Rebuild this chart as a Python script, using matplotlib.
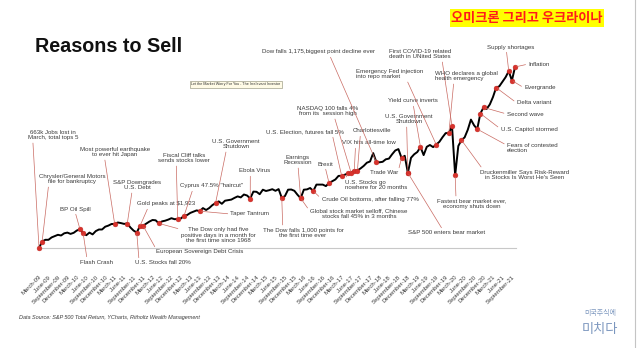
import matplotlib
matplotlib.use('Agg')
import matplotlib.pyplot as plt
import pandas as pd

plt.rcParams['font.family'] = ['Liberation Sans', 'DejaVu Sans']

# S&P 500 total return, one value per month
# (height above the March-09 low, chart units)
tr_2009 = [0, 6.5, 8.2, 8.2, 10.6, 11.9, 13.2, 12.5, 14.7, 15.4]
tr_2010 = [14.1, 15.2, 17.5, 18.7, 14.8, 12.8, 15.4, 13.6, 16.9, 18.5, 18.5, 21.3]
tr_2011 = [22.4, 24.0, 24.0, 25.5, 24.9, 24.1, 24.5, 20.5, 17.4, 15.5, 21.8, 22.3]
tr_2012 = [24.3, 26.4, 28.0, 27.7, 24.6, 26.6, 27.3, 28.4, 29.8, 28.8, 29.0, 29.5]
tr_2013 = [32.2, 33.0, 35.1, 36.3, 37.6, 36.8, 39.9, 38.0, 40.0, 42.9, 44.9, 46.6]
tr_2014 = [44.2, 47.3, 47.9, 48.4, 50.1, 51.6, 50.6, 53.5, 52.5, 49.5, 56.4, 56.2]
tr_2015 = [53.8, 58.3, 57.0, 57.8, 58.8, 57.2, 58.9, 50.2, 51.9, 58.3, 58.5, 57.2]
tr_2016 = [53.2, 49.8, 58.3, 58.6, 60.0, 57.0, 63.4, 63.4, 63.4, 61.9, 65.0, 66.8]
tr_2017 = [68.5, 72.1, 72.2, 73.3, 74.6, 75.2, 77.3, 77.5, 79.6, 82.1, 85.3, 86.5]
tr_2018 = [94.9, 86.0, 85.7, 86.2, 88.7, 89.4, 93.7, 97.5, 98.9, 90.0, 92.2, 75.1]
tr_2019 = [90.2, 93.7, 96.0, 101.0, 92.9, 101.2, 103.0, 100.9, 103.4, 106.2, 110.8, 114.9]
tr_2020 = [114.9, 122.0, 72.7, 102.0, 107.9, 110.6, 118.2, 128.4, 122.7, 118.9, 134.5, 140.6]
tr_2021 = [139.1, 143.6, 151.0, 160.4, 161.7, 166.2, 170.8, 176.8, 167.5, 181.0]

values = (tr_2009 + tr_2010 + tr_2011 + tr_2012 + tr_2013 + tr_2014 + tr_2015
          + tr_2016 + tr_2017 + tr_2018 + tr_2019 + tr_2020 + tr_2021)
months = pd.period_range('2009-03', periods=len(values), freq='M')

tick_months = pd.period_range('2009-03', '2021-09', freq='3M')
tick_labels = [p.strftime('%B') + '-' + p.strftime('%y') for p in tick_months]

# events and the month where their dot sits on the line
event_labels = [
    "663k Jobs lost in\nMarch, total tops 5",
    "Chrysler/General Motors\nfile for bankruptcy",
    "BP Oil Spill",
    "Flash Crash",
    "Most powerful earthquake\nto ever hit Japan",
    "S&P Downgrades\nU.S. Debt",
    "Gold peaks at $1,923",
    "U.S. Stocks fall 20%",
    "European Sovereign Debt Crisis",
    "The Dow only had five\npositive days in a month for\nthe first time since 1968",
    "Fiscal Cliff talks\nsends stocks lower",
    "Cyprus 47.5% \"haircut\"",
    "Taper Tantrum",
    "U.S. Government\nShutdown",
    "Ebola Virus",
    "Earnings\nRecession",
    "The Dow falls 1,000 points for\nthe first time ever",
    "Global stock market selloff, Chinese\nstocks fall 45% in 3 months",
    "Crude Oil bottoms, after falling 77%",
    "Brexit",
    "U.S. Election, futures fall 5%",
    "U.S. Stocks go\nnowhere for 20 months",
    "VIX hits all-time low",
    "Charlottesville",
    "NASDAQ 100 falls 4%\nfrom its  session high",
    "Dow falls 1,175,biggest point decline ever",
    "Trade War",
    "S&P 500 enters bear market",
    "U.S. Government\nShutdown",
    "Yield curve inverts",
    "Emergency Fed injection\ninto repo market",
    "First COVID-19 related\ndeath in UNited States",
    "WHO declares a global\nhealth emergency",
    "Fastest bear market ever,\neconomy shuts down",
    "Druckenmiller Says Risk-Reward\nin Stocks Is Worst He's Seen",
    "Fears of contested\nelection",
    "U.S. Capitol stormed",
    "Second wave",
    "Delta variant",
    "Supply shortages",
    "Inflation",
    "Evergrande",
]
event_months = [
    '2009-03', '2009-04', '2010-04', '2010-05', '2011-03', '2011-07', '2011-11',
    '2011-10', '2011-12', '2012-05', '2012-11', '2013-01', '2013-06', '2013-11',
    '2014-10', '2016-02', '2015-08', '2016-02', '2016-06', '2016-11', '2017-03',
    '2017-05', '2017-07', '2017-08', '2017-06', '2018-02', '2018-10', '2018-12',
    '2018-12', '2019-04', '2019-09', '2020-02', '2020-01', '2020-03', '2020-05',
    '2020-10', '2020-11', '2020-12', '2021-04', '2021-08', '2021-10', '2021-09',
]

# label layout: text anchor in picture pixels (from top-left), alignment, leader start
label_layout = [
    (53, 135, 'center', (0.1, 0)), (72, 179, 'center', (0.15, 0)),
    (75, 209, 'center', (0.5, 0)), (96, 262, 'center', (0.23, 1)),
    (115, 152, 'center', (0.35, 0)), (137, 185, 'center', (0.4, 0)),
    (166, 204, 'center', (0.2, 0)), (163, 263, 'center', (0.07, 1)),
    (200, 252, 'center', (0.0, 1)), (218, 235, 'center', (0.0, 0.85)),
    (184, 158, 'center', (0.35, 0)), (212, 186, 'center', (0.2, 0)),
    (250, 214, 'center', (0.0, 0.5)), (236, 144, 'center', (0.3, 0)),
    (255, 171, 'center', (0.35, 0)), (298, 160, 'center', (0.5, 0)),
    (303, 233, 'center', (0.25, 1)), (359, 214, 'center', (0.0, 0.7)),
    (370, 199, 'center', (0.0, 0.5)), (325, 164, 'center', (0.5, 0)),
    (305, 132, 'center', (0.85, 0)), (345, 185, 'left', (0.0, 1)),
    (369, 143, 'center', (0.25, 0)), (372, 131, 'center', (0.2, 0)),
    (328, 111, 'center', (0.6, 0)), (318, 52, 'center', (0.6, 0)),
    (384, 173, 'center', (1.0, 0.8)), (447, 233, 'center', (0.45, 1)),
    (409, 119, 'center', (0.45, 0)), (413, 101, 'center', (0.5, 0)),
    (356, 74, 'left', (0.75, 0)), (389, 54, 'left', (0.85, 0)),
    (435, 76, 'left', (0.3, 0)), (472, 204, 'center', (0.27, 1)),
    (525, 175, 'center', (0.03, 1)), (507, 148, 'left', (0.0, 0.75)),
    (529, 129, 'center', (0.0, 0.5)), (525, 114, 'center', (0.0, 0.5)),
    (534, 103, 'center', (0.0, 0.5)), (511, 47, 'center', (0.4, 0)),
    (539, 64, 'center', (0.0, 0.5)), (540, 88, 'center', (0.0, 0.5)),
]

W, H = 637, 348
fig = plt.figure(figsize=(W / 100, H / 100), dpi=100)
ax = fig.add_axes([38 / W, (H - 248) / H, 478 / W, 208 / H])

x = list(range(len(values)))
ax.plot(x, values, color='black', lw=1.4, solid_joinstyle='round', zorder=3)

pos = {str(p): i for i, p in enumerate(months)}
ev_x = [pos[m] for m in event_months]
ev_y = [values[i] for i in ev_x]
ax.plot(ev_x, ev_y, 'o', color='#d8322c', ms=3.5, mec='#c02a25', mew=0.3,
        zorder=4, clip_on=False)

for lab, xi, yi, (px, py, ha, rp) in zip(event_labels, ev_x, ev_y, label_layout):
    ax.annotate(lab, xy=(xi, yi), xytext=(px, H - py), textcoords='figure pixels',
                ha=ha, va='center', fontsize=4.4, color='#3a3a3a', linespacing=1.15,
                arrowprops=dict(arrowstyle='-', color='#c96a62', lw=0.5,
                                shrinkA=0, shrinkB=1.2, relpos=rp),
                zorder=5, annotation_clip=False)

ax.set_xlim(-0.32, 151.3)
ax.set_ylim(0, 208)
ax.set_xticks([pos[str(p)] for p in tick_months])
ax.set_xticklabels(tick_labels, rotation=45, ha='right', rotation_mode='anchor',
                   fontsize=4.3, color='#3a3a3a')
ax.tick_params(axis='x', length=0, pad=19)
ax.set_yticks([])
for s in ['top', 'right', 'left']:
    ax.spines[s].set_visible(False)
ax.spines['bottom'].set_color('#c8c8c8')
ax.spines['bottom'].set_linewidth(0.8)

fig.text(35 / W, 1 - 46 / H, "Reasons to Sell", fontsize=14.2, fontweight='bold',
         va='center', ha='left', color='#111111')
fig.text(527 / W, 1 - 18 / H, "오미크론 그리고 우크라이나", fontsize=9.5, fontweight='bold',
         color='#ff1a1a', ha='center', va='center',
         family=['Noto Sans CJK KR', 'DejaVu Sans'],
         bbox=dict(facecolor='#ffff00', edgecolor='none', pad=1.2))
fig.text(236 / W, 1 - 84.5 / H, "Let the Market Worry For You - The Irrelevant Investor",
         fontsize=2.7, ha='center', va='center', color='#333333',
         bbox=dict(facecolor='#fffbe6', edgecolor='#8a8a70', lw=0.4, pad=0.8))
fig.text(19 / W, 1 - 317 / H,
         "Data Source: S&P 500 Total Return, YCharts, Ritholtz Wealth Management",
         fontsize=4.0, style='italic', ha='left', va='center', color='#3a3a3a')
fig.text(600 / W, 1 - 313 / H, "미국주식에", fontsize=5, ha='center', va='center',
         color='#7c97bf', family=['Noto Sans CJK KR', 'DejaVu Sans'])
fig.text(600 / W, 1 - 330 / H, "미치다", fontsize=9.5, ha='center', va='center',
         color='#7c97bf', family=['Noto Sans CJK KR', 'DejaVu Sans'])
fig.add_artist(plt.Line2D([635 / W, 635 / W], [0, 1], color='#c4c4c4', lw=0.8))

fig.savefig('out.png', dpi=100)
